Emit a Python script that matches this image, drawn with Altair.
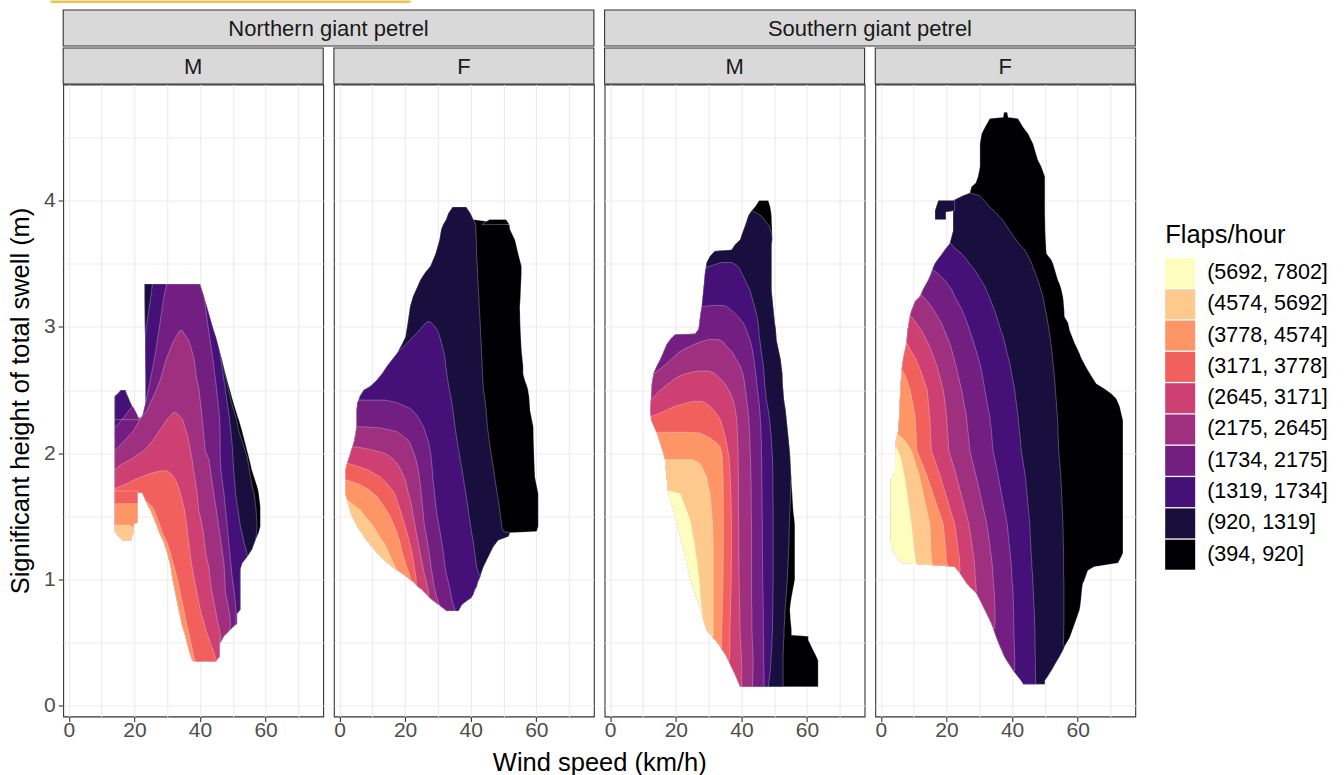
import altair as alt
import pandas as pd

# ---------------- categories / colours ----------------
SPECIES = ["Northern giant petrel", "Southern giant petrel"]
SEXES = ["M", "F", "M", "F"]
BANDS = ["(394, 920]", "(920, 1319]", "(1319, 1734]", "(1734, 2175]", "(2175, 2645]",
         "(2645, 3171]", "(3171, 3778]", "(3778, 4574]", "(4574, 5692]", "(5692, 7802]"]
COLORS = ["#000004", "#180F3E", "#451077", "#721F81", "#9F2F7F",
          "#CD4071", "#F1605D", "#FD9567", "#FEC98D", "#FCFDBF"]
X_TICKS = [0, 10, 20, 30, 40, 50, 60, 70]
Y_TICKS = [0, 0.5, 1, 1.5, 2, 2.5, 3, 3.5, 4, 4.5]

# ---------------- panel 1 : Northern giant petrel, M ----------------
# rows: (swell height, left wind speed, right wind speed) of each region "flaps > band k"
N_M_0 = [(3.34, 23.1, 40.0), (3.24, 23.1, 41.2), (2.97, 23.2, 44.2), (2.79, 23.3, 46.2), (2.58, 23.4, 48.3),
         (2.40, 23.4, 50.2), (2.30, 22.5, 51.4), (2.28, 22.0, 51.6), (2.27, 14.0, 51.8), (2.18, 14.0, 52.8),
         (1.97, 14.0, 54.9), (1.86, 14.0, 55.9), (1.74, 14.0, 57.4), (1.70, 14.0, 57.8), (1.685, 22.4, 57.9),
         (1.58, 24.2, 58.4), (1.55, 24.9, 58.4), (1.42, 26.9, 58.4), (1.37, 27.6, 57.9), (1.31, 28.7, 56.9),
         (1.29, 29.0, 56.6), (1.24, 29.7, 55.9), (1.18, 30.3, 54.4), (1.13, 30.8, 52.9), (1.08, 31.2, 52.3),
         (1.02, 31.5, 52.3), (0.89, 32.5, 52.3), (0.76, 33.5, 52.3), (0.73, 33.8, 51.3), (0.65, 34.4, 51.3),
         (0.63, 34.6, 50.3), (0.59, 35.1, 48.8), (0.55, 35.5, 47.3), (0.49, 36.1, 46.0), (0.39, 37.2, 46.0),
         (0.36, 37.6, 45.0), (0.35, 38.1, 45.0)]
N_M_PEAK = [(2.50, 15.9, 17.3), (2.47, 14.9, 17.6), (2.45, 14.0, 18.0), (2.40, 14.0, 18.8),
            (2.33, 14.0, 20.2), (2.28, 14.0, 21.2), (2.265, 14.0, 21.8)]
N_M_LOW = [(1.70, 14.0, 21.0), (1.45, 14.0, 20.9), (1.44, 14.0, 19.8), (1.38, 14.0, 19.8),
           (1.36, 14.6, 19.6), (1.34, 15.2, 19.3), (1.31, 16.3, 19.0)]
N_M_1 = [(3.34, 23.1, 40.0), (3.24, 23.1, 41.2), (2.97, 23.2, 44.2), (2.79, 23.3, 46.2), (2.75, 23.3, 46.6),
         (2.58, 23.4, 48.0), (2.40, 23.4, 49.6), (2.30, 22.5, 50.8), (2.28, 22.0, 51.0), (2.27, 14.0, 51.1),
         (2.18, 14.0, 51.8), (1.97, 14.0, 54.4), (1.86, 14.0, 55.1), (1.74, 14.0, 55.9), (1.70, 14.0, 56.3),
         (1.685, 22.4, 56.5), (1.58, 24.2, 57.0), (1.55, 24.9, 57.1), (1.42, 26.9, 57.4), (1.37, 27.6, 57.3),
         (1.31, 28.7, 56.9)] + [r for r in N_M_0 if r[0] <= 1.29]
N_M_2 = [(3.34, 25.5, 40.0), (3.24, 25.0, 41.2), (3.15, 24.5, 42.2), (2.97, 23.5, 44.2), (2.92, 23.3, 44.9),
         (2.84, 23.3, 45.7), (2.79, 23.3, 46.1), (2.58, 23.4, 47.3), (2.40, 23.4, 48.3), (2.31, 22.6, 48.8),
         (2.28, 22.0, 49.0), (2.27, 14.0, 49.0), (2.18, 14.0, 49.4), (2.07, 14.0, 49.8), (1.86, 14.0, 50.3),
         (1.70, 14.0, 50.8), (1.685, 22.4, 50.8), (1.58, 24.2, 51.4), (1.55, 24.9, 51.6), (1.42, 26.9, 52.3),
         (1.37, 27.6, 52.8), (1.31, 28.7, 53.3), (1.29, 29.0, 53.4), (1.24, 29.7, 54.0), (1.18, 30.3, 54.4)] \
        + [r for r in N_M_0 if r[0] <= 1.13]
N_M_3 = [(3.34, 29.8, 40.0), (3.24, 29.0, 41.2), (3.05, 27.9, 42.2), (2.79, 26.4, 43.7), (2.52, 24.4, 45.0),
         (2.40, 23.4, 45.5), (2.30, 22.5, 45.9), (2.28, 22.0, 46.0), (2.27, 16.3, 46.0), (2.20, 14.0, 46.1),
         (1.95, 14.0, 46.2), (1.86, 14.0, 46.4), (1.70, 14.0, 47.2), (1.685, 22.4, 47.3), (1.58, 24.2, 47.7),
         (1.55, 24.9, 47.8), (1.42, 26.9, 48.3), (1.37, 27.6, 48.5), (1.31, 28.7, 48.7), (1.29, 29.0, 48.8),
         (1.24, 29.7, 49.0), (1.18, 30.3, 49.2), (1.13, 30.8, 49.4), (1.08, 31.2, 49.6), (1.02, 31.5, 49.8),
         (0.89, 32.5, 50.5), (0.76, 33.5, 51.0), (0.73, 33.8, 51.0), (0.65, 34.4, 51.0)] \
        + [r for r in N_M_0 if r[0] <= 0.63]
N_M_3_PEAK = [(2.37, 19.3, 19.6), (2.30, 17.2, 21.0), (2.28, 16.6, 21.2), (2.265, 16.2, 21.8)]
N_M_4 = [(2.97, 33.8, 34.6), (2.89, 32.0, 36.6), (2.76, 29.9, 38.1), (2.58, 27.9, 39.0), (2.52, 27.0, 39.6),
         (2.34, 23.9, 40.4), (2.26, 21.5, 40.7), (2.18, 19.8, 41.0), (2.10, 17.0, 41.3), (2.02, 14.0, 41.6),
         (1.95, 14.0, 42.7), (1.86, 14.0, 43.2), (1.70, 14.0, 44.1), (1.685, 22.4, 44.2), (1.58, 24.2, 44.8),
         (1.55, 24.9, 45.0), (1.42, 26.9, 45.7), (1.37, 27.6, 46.0), (1.31, 28.7, 46.3), (1.29, 29.0, 46.4),
         (1.24, 29.7, 46.7), (1.18, 30.3, 47.0), (1.13, 30.8, 47.3), (1.08, 31.2, 47.4), (1.02, 31.5, 47.5),
         (0.89, 32.5, 47.8), (0.76, 33.5, 48.8), (0.73, 33.8, 49.0), (0.65, 34.4, 49.3), (0.63, 34.6, 49.3)] \
        + [r for r in N_M_0 if r[0] <= 0.59]
N_M_5 = [(2.32, 31.8, 32.8), (2.27, 30.0, 34.6), (2.20, 28.2, 35.5), (2.15, 26.9, 36.1), (2.08, 25.0, 36.7),
         (2.02, 22.9, 37.1), (1.95, 18.8, 37.6), (1.91, 16.0, 37.8), (1.87, 14.0, 38.0), (1.86, 14.0, 38.1),
         (1.70, 14.0, 39.0), (1.685, 22.4, 39.1), (1.58, 24.2, 39.5), (1.55, 24.9, 39.6), (1.42, 26.9, 40.7),
         (1.37, 27.6, 41.0), (1.31, 28.7, 41.3), (1.29, 29.0, 41.4), (1.24, 29.7, 41.6), (1.18, 30.3, 41.9),
         (1.13, 30.8, 42.4), (1.08, 31.2, 42.8), (1.02, 31.5, 43.0), (0.89, 32.5, 43.7), (0.76, 33.5, 44.7),
         (0.73, 33.8, 44.9), (0.65, 34.4, 45.5), (0.63, 34.6, 45.7), (0.59, 35.1, 46.0), (0.55, 35.5, 46.3)] \
        + [r for r in N_M_0 if r[0] <= 0.49]
N_M_6 = [(1.86, 28.0, 30.0), (1.84, 25.0, 31.0), (1.82, 22.9, 31.8), (1.79, 20.0, 32.5), (1.76, 17.8, 33.0),
         (1.72, 14.0, 33.6), (1.70, 14.0, 33.8), (1.685, 22.4, 34.0), (1.58, 24.2, 35.0), (1.55, 24.9, 35.3),
         (1.42, 26.9, 36.0), (1.37, 27.6, 36.2), (1.31, 28.7, 36.5), (1.29, 29.0, 36.6), (1.24, 29.7, 36.8),
         (1.18, 30.3, 37.1), (1.13, 30.8, 37.4), (1.08, 31.2, 37.7), (1.02, 31.5, 38.1), (0.89, 32.5, 39.1),
         (0.76, 33.5, 40.1), (0.73, 33.8, 40.4), (0.65, 34.4, 41.3), (0.63, 34.6, 41.5), (0.59, 35.1, 41.9),
         (0.55, 35.5, 42.5), (0.49, 36.1, 43.2), (0.43, 36.7, 44.2), (0.39, 37.2, 44.6), (0.36, 37.6, 45.0),
         (0.35, 38.1, 45.0)]
N_M_7 = [(1.62, 23.6, 23.7), (1.58, 24.2, 25.3), (1.55, 24.9, 26.0), (1.42, 26.9, 27.9), (1.37, 27.6, 28.5),
         (1.31, 28.7, 29.6), (1.29, 29.0, 30.0), (1.24, 29.7, 30.6), (1.18, 30.3, 31.3), (1.13, 30.8, 31.8),
         (1.08, 31.2, 32.3), (1.02, 31.5, 33.0), (0.89, 32.5, 34.0), (0.76, 33.5, 35.1), (0.73, 33.8, 35.3),
         (0.65, 34.4, 35.9), (0.63, 34.6, 36.1), (0.59, 35.1, 36.5), (0.55, 35.5, 36.8), (0.49, 36.1, 37.3),
         (0.43, 36.7, 37.8), (0.39, 37.2, 38.1), (0.36, 37.6, 38.5), (0.35, 38.1, 38.6)]
N_M_7_LOW = [(1.60, 14.0, 21.0), (1.45, 14.0, 20.9), (1.44, 14.0, 19.8), (1.38, 14.0, 19.8),
             (1.36, 14.6, 19.6), (1.34, 15.2, 19.3), (1.31, 16.3, 19.0)]
N_M_8_LOW = [(1.43, 14.0, 18.5), (1.41, 14.0, 19.8), (1.38, 14.0, 19.8), (1.36, 14.6, 19.6),
             (1.34, 15.2, 19.3), (1.31, 16.3, 19.0)]
PANEL_N_M = [(0, N_M_0), (0, N_M_PEAK), (0, N_M_LOW), (1, N_M_1), (1, N_M_PEAK), (1, N_M_LOW),
             (2, N_M_2), (2, N_M_PEAK), (2, N_M_LOW), (3, N_M_3), (3, N_M_3_PEAK), (3, N_M_LOW),
             (4, N_M_4), (4, N_M_LOW), (5, N_M_5), (5, N_M_LOW), (6, N_M_6), (6, N_M_LOW),
             (7, N_M_7), (7, N_M_7_LOW), (8, N_M_8_LOW)]

# ---------------- panel 2 : Northern giant petrel, F ----------------
N_F_0 = [(3.95, 34.5, 38.6), (3.90, 33.2, 39.9), (3.85, 32.5, 40.8), (3.81, 31.6, 51.8), (3.77, 31.0, 52.0),
         (3.69, 30.5, 53.5), (3.58, 29.3, 54.5), (3.48, 27.7, 55.5), (3.43, 26.1, 55.5), (3.37, 24.6, 55.4),
         (3.31, 23.6, 55.3), (3.24, 22.4, 55.2), (3.16, 21.5, 55.0), (3.03, 20.8, 55.1), (2.92, 20.1, 55.3),
         (2.86, 19.0, 55.4), (2.79, 17.5, 55.6), (2.74, 16.0, 55.8), (2.69, 14.5, 56.0), (2.63, 13.0, 56.0),
         (2.58, 11.4, 56.5), (2.53, 9.4, 57.2), (2.50, 7.4, 57.5), (2.45, 6.2, 57.8), (2.39, 5.4, 58.0),
         (2.34, 5.2, 58.1), (2.21, 5.2, 59.1), (2.09, 4.4, 59.2), (2.00, 3.3, 59.3), (1.92, 2.3, 59.4),
         (1.87, 1.8, 59.5), (1.81, 1.8, 59.6), (1.68, 1.8, 60.6), (1.58, 2.8, 60.6), (1.50, 3.8, 60.6),
         (1.42, 5.4, 60.6), (1.38, 6.4, 60.1), (1.37, 6.8, 52.0), (1.34, 7.4, 51.5), (1.31, 8.3, 48.4),
         (1.26, 9.9, 46.9), (1.18, 12.5, 45.4), (1.10, 16.0, 43.9), (1.05, 19.0, 43.2), (1.02, 20.5, 42.9),
         (0.98, 22.6, 42.2), (0.94, 24.0, 41.8), (0.92, 25.1, 41.3), (0.88, 26.5, 40.8), (0.85, 27.7, 40.0),
         (0.84, 28.2, 39.3), (0.80, 30.2, 37.3), (0.75, 32.7, 36.3)]
N_F_TOP = [(3.85, 45.7, 50.8), (3.81, 43.4, 51.8)]
N_F_1 = [(3.95, 34.5, 38.6), (3.90, 33.2, 39.9), (3.85, 32.5, 40.8), (3.81, 31.6, 41.5), (3.77, 31.0, 41.6),
         (3.69, 30.5, 41.7), (3.58, 29.3, 41.8), (3.48, 27.7, 42.0), (3.43, 26.1, 42.1), (3.37, 24.6, 42.2),
         (3.31, 23.6, 42.3), (3.24, 22.4, 42.5), (3.16, 21.5, 42.6), (3.03, 20.8, 42.9), (2.92, 20.1, 43.1),
         (2.86, 19.0, 43.2), (2.79, 17.5, 43.3), (2.74, 16.0, 43.4), (2.69, 14.5, 43.5), (2.63, 13.0, 43.6),
         (2.58, 11.4, 43.7), (2.53, 9.4, 43.8), (2.50, 7.4, 43.9), (2.45, 6.2, 44.2), (2.39, 5.4, 44.5),
         (2.34, 5.2, 44.7), (2.21, 5.2, 45.1), (2.09, 4.4, 45.7), (2.00, 3.3, 46.2), (1.92, 2.3, 46.7),
         (1.87, 1.8, 47.0), (1.81, 1.8, 47.3), (1.68, 1.8, 48.1), (1.58, 2.8, 48.7), (1.50, 3.8, 49.1),
         (1.42, 5.4, 49.5), (1.38, 6.4, 49.9)] + [r for r in N_F_0 if r[0] <= 1.37]
N_F_2 = [(3.04, 26.7, 27.7), (3.01, 25.5, 28.8), (2.98, 24.5, 29.7), (2.95, 23.6, 30.2), (2.91, 22.0, 30.7),
         (2.87, 20.6, 31.1), (2.83, 19.0, 31.5), (2.80, 17.8, 31.8), (2.79, 17.5, 31.9), (2.74, 16.0, 32.2),
         (2.69, 14.5, 32.4), (2.63, 13.0, 32.7), (2.58, 11.4, 33.0), (2.53, 9.4, 33.3), (2.50, 7.4, 33.5),
         (2.45, 6.2, 33.9), (2.39, 5.4, 34.3), (2.34, 5.2, 34.6), (2.21, 5.2, 35.2), (2.09, 4.4, 35.9),
         (2.00, 3.3, 36.5), (1.92, 2.3, 37.0), (1.87, 1.8, 37.4), (1.81, 1.8, 37.7), (1.68, 1.8, 38.5),
         (1.58, 2.8, 39.1), (1.50, 3.8, 39.5), (1.42, 5.4, 40.0), (1.37, 6.8, 40.3), (1.34, 7.4, 40.5),
         (1.31, 8.3, 40.7), (1.26, 9.9, 41.0), (1.18, 12.5, 41.4), (1.10, 16.0, 41.8), (1.05, 19.0, 42.4)] \
        + [r for r in N_F_0 if r[0] <= 1.02]
N_F_3 = [(2.42, 5.8, 14.0), (2.40, 5.4, 17.5), (2.36, 5.3, 21.1), (2.34, 5.2, 22.2), (2.30, 5.2, 23.6),
         (2.21, 5.2, 25.6), (2.09, 4.4, 27.1), (2.00, 3.3, 27.8), (1.92, 2.3, 28.1), (1.87, 1.8, 28.3),
         (1.81, 1.8, 28.4), (1.68, 1.8, 29.0), (1.58, 2.8, 29.4), (1.50, 3.8, 29.8), (1.42, 5.4, 30.4),
         (1.37, 6.8, 30.7), (1.34, 7.4, 30.9), (1.31, 8.3, 31.1), (1.26, 9.9, 31.4), (1.18, 12.5, 31.8),
         (1.10, 16.0, 32.2), (1.05, 19.0, 32.5), (1.02, 20.5, 32.8), (0.98, 22.6, 33.2), (0.94, 24.0, 33.5),
         (0.92, 25.1, 33.7), (0.88, 26.5, 34.0), (0.85, 27.7, 34.2), (0.84, 28.2, 34.3), (0.80, 30.2, 34.7),
         (0.75, 32.7, 35.3)]
N_F_4 = [(2.21, 5.2, 6.0), (2.20, 5.1, 12.5), (2.17, 5.0, 17.5), (2.11, 4.6, 20.6), (2.09, 4.4, 21.3),
         (2.00, 3.3, 22.7), (1.97, 3.0, 23.1), (1.92, 2.3, 23.6), (1.87, 1.8, 24.0), (1.81, 1.8, 24.3),
         (1.76, 1.8, 24.6), (1.68, 1.8, 24.9), (1.58, 2.8, 25.3), (1.50, 3.8, 25.6), (1.42, 5.4, 25.9),
         (1.37, 6.8, 26.3), (1.34, 7.4, 26.5), (1.31, 8.3, 26.7), (1.26, 9.9, 27.0), (1.23, 10.8, 27.2),
         (1.18, 12.5, 27.5), (1.10, 16.0, 27.9), (1.05, 19.0, 28.2), (1.02, 20.5, 28.4), (0.98, 22.6, 28.6),
         (0.94, 24.0, 28.9), (0.92, 25.1, 29.1), (0.88, 26.5, 29.4), (0.85, 27.7, 29.8), (0.84, 28.2, 29.9),
         (0.81, 29.7, 30.2), (0.79, 30.7, 30.7)]
N_F_5 = [(2.05, 3.9, 5.0), (2.03, 3.6, 9.4), (2.00, 3.3, 13.5), (1.99, 3.2, 14.5), (1.95, 2.7, 16.5),
         (1.92, 2.3, 17.5), (1.87, 1.8, 18.7), (1.81, 1.8, 19.7), (1.79, 1.8, 20.1), (1.68, 1.8, 21.0),
         (1.63, 2.3, 21.6), (1.58, 2.8, 22.0), (1.50, 3.8, 22.5), (1.42, 5.4, 23.1), (1.37, 6.8, 23.4),
         (1.34, 7.4, 23.6), (1.31, 8.3, 23.9), (1.26, 9.9, 24.2), (1.21, 11.5, 24.6), (1.18, 12.5, 24.8),
         (1.10, 16.0, 25.4), (1.05, 19.0, 25.8), (1.02, 20.5, 26.1), (0.98, 22.6, 26.5), (0.94, 24.0, 26.8),
         (0.92, 25.1, 27.0), (0.89, 26.2, 27.2), (0.87, 27.0, 27.1)]
N_F_6 = [(1.92, 2.3, 2.5), (1.88, 1.9, 7.4), (1.87, 1.8, 8.5), (1.81, 1.8, 12.5), (1.76, 1.8, 14.5),
         (1.71, 1.8, 16.0), (1.68, 1.8, 16.8), (1.58, 2.8, 18.1), (1.55, 3.2, 18.5), (1.50, 3.8, 19.1),
         (1.42, 5.4, 20.0), (1.37, 6.8, 20.6), (1.34, 7.4, 20.9), (1.31, 8.3, 21.2), (1.26, 9.9, 21.7),
         (1.21, 11.5, 22.1), (1.18, 12.5, 22.3), (1.10, 16.0, 22.8), (1.05, 19.0, 23.1), (1.02, 20.5, 23.3),
         (0.98, 22.6, 23.4), (0.96, 23.3, 23.4)]
N_F_7 = [(1.79, 1.8, 2.0), (1.75, 1.8, 6.4), (1.71, 1.8, 9.0), (1.68, 1.8, 10.3), (1.66, 2.0, 11.4),
         (1.58, 2.8, 13.5), (1.52, 3.5, 15.0), (1.50, 3.8, 15.4), (1.42, 5.4, 16.8), (1.37, 6.8, 17.5),
         (1.34, 7.4, 17.9), (1.31, 8.3, 18.3), (1.26, 9.9, 18.7), (1.23, 10.8, 19.0), (1.18, 12.5, 19.5),
         (1.13, 14.6, 20.1), (1.10, 16.0, 20.5), (1.05, 19.0, 21.2), (1.02, 20.5, 21.6), (1.01, 21.2, 21.7)]
N_F_8 = [(1.63, 2.3, 2.4), (1.58, 2.8, 4.8), (1.55, 3.2, 6.4), (1.50, 3.8, 7.8), (1.42, 5.4, 10.4),
         (1.37, 6.8, 11.5), (1.34, 7.4, 12.2), (1.31, 8.3, 12.9), (1.29, 8.9, 13.5), (1.26, 9.9, 14.2),
         (1.18, 12.5, 15.5), (1.10, 16.0, 16.9), (1.08, 17.2, 17.3)]
PANEL_N_F = [(0, N_F_0), (0, N_F_TOP), (1, N_F_1), (2, N_F_2), (3, N_F_3), (4, N_F_4),
             (5, N_F_5), (6, N_F_6), (7, N_F_7), (8, N_F_8)]

# ---------------- panel 3 : Southern giant petrel, M ----------------
S_M_0 = [(4.00, 45.4, 48.2), (3.95, 44.1, 48.8), (3.92, 43.1, 49.0), (3.88, 42.1, 49.2), (3.80, 41.1, 49.3),
         (3.73, 40.1, 49.4), (3.69, 39.6, 49.4), (3.65, 38.0, 49.2), (3.61, 37.0, 49.2), (3.60, 31.9, 49.2),
         (3.56, 30.4, 49.2), (3.51, 29.4, 49.2), (3.43, 28.9, 49.2), (3.29, 28.4, 49.2), (3.16, 27.9, 49.7),
         (3.08, 27.4, 50.0), (3.03, 27.2, 50.2), (2.98, 26.9, 50.5), (2.945, 25.9, 50.6), (2.94, 19.8, 50.6),
         (2.90, 18.3, 50.7), (2.86, 17.2, 51.0), (2.80, 16.2, 51.5), (2.74, 15.2, 52.0), (2.69, 14.2, 52.2),
         (2.63, 13.2, 52.5), (2.55, 12.7, 52.6), (2.42, 12.4, 53.0), (2.34, 12.2, 53.5), (2.26, 12.5, 53.8),
         (2.16, 14.2, 54.2), (2.08, 15.2, 54.5), (2.00, 16.2, 54.8), (1.95, 16.7, 54.9), (1.81, 17.2, 55.2),
         (1.68, 17.7, 55.5), (1.55, 19.3, 55.8), (1.44, 20.3, 56.3), (1.29, 21.8, 56.3), (1.00, 24.5, 56.3),
         (0.86, 26.2, 55.3), (0.81, 26.9, 55.0), (0.76, 27.5, 54.8), (0.68, 28.4, 55.0), (0.60, 29.4, 55.3),
         (0.56, 30.8, 55.3), (0.55, 31.0, 60.4), (0.52, 32.0, 60.4), (0.49, 33.0, 61.0), (0.44, 34.2, 61.9),
         (0.41, 35.0, 62.5), (0.36, 36.0, 63.4), (0.33, 36.5, 63.4), (0.25, 38.0, 63.4), (0.15, 39.6, 63.4)]
S_M_1 = [(3.92, 43.1, 43.3), (3.88, 42.1, 46.0), (3.80, 41.1, 48.5), (3.73, 40.1, 49.3)] \
        + [r for r in S_M_0 if 1.81 <= r[0] <= 3.69] \
        + [(1.68, 17.7, 55.0), (1.55, 19.3, 54.8), (1.44, 20.3, 54.6), (1.29, 21.8, 54.5), (1.00, 24.5, 54.0),
           (0.86, 26.2, 53.6), (0.81, 26.9, 53.5), (0.76, 27.5, 53.3), (0.68, 28.4, 53.2), (0.60, 29.4, 53.0),
           (0.56, 30.8, 53.0), (0.55, 31.0, 53.0), (0.52, 32.0, 52.9), (0.49, 33.0, 52.8), (0.44, 34.2, 52.8),
           (0.41, 35.0, 52.7), (0.36, 36.0, 52.7), (0.33, 36.5, 52.7), (0.25, 38.0, 52.7), (0.15, 39.6, 52.7)]
S_M_2 = [(3.51, 34.0, 37.0), (3.49, 31.5, 38.5), (3.47, 29.2, 39.2), (3.43, 28.9, 40.0), (3.29, 28.4, 42.6),
         (3.16, 27.9, 44.0), (3.08, 27.4, 44.8), (3.03, 27.2, 45.1), (2.98, 26.9, 45.3), (2.945, 25.9, 45.4),
         (2.94, 19.8, 45.4), (2.90, 18.3, 45.6), (2.86, 17.2, 45.8), (2.80, 16.2, 46.1), (2.74, 15.2, 46.4),
         (2.69, 14.2, 46.7), (2.63, 13.2, 46.9), (2.55, 12.7, 47.1), (2.42, 12.4, 47.6), (2.34, 12.2, 48.2),
         (2.26, 12.5, 48.6), (2.16, 14.2, 49.0), (2.08, 15.2, 49.2), (2.00, 16.2, 49.4), (1.95, 16.7, 49.5),
         (1.81, 17.2, 49.6), (1.68, 17.7, 49.6), (1.55, 19.3, 49.7), (1.44, 20.3, 49.7), (1.29, 21.8, 49.7),
         (1.00, 24.5, 49.7), (0.86, 26.2, 49.6), (0.81, 26.9, 49.6), (0.76, 27.5, 49.6), (0.68, 28.4, 49.5),
         (0.60, 29.4, 49.5), (0.56, 30.8, 49.4), (0.55, 31.0, 49.4), (0.52, 32.0, 49.3), (0.49, 33.0, 49.3),
         (0.44, 34.2, 49.2), (0.41, 35.0, 49.1), (0.36, 36.0, 49.0), (0.33, 36.5, 49.0), (0.25, 38.0, 48.7),
         (0.15, 39.6, 48.2)]
S_M_3 = [(3.17, 31.5, 34.5), (3.16, 27.9, 35.5), (3.12, 27.6, 37.5), (3.08, 27.4, 39.0), (3.03, 27.2, 40.6),
         (2.98, 26.9, 41.5), (2.945, 25.9, 42.0), (2.94, 19.8, 42.0), (2.90, 18.3, 42.6), (2.86, 17.2, 43.0),
         (2.80, 16.2, 43.5), (2.74, 15.2, 43.8), (2.69, 14.2, 44.1), (2.63, 13.2, 44.4), (2.55, 12.7, 44.7),
         (2.42, 12.4, 45.3), (2.34, 12.2, 45.6), (2.26, 12.5, 45.8), (2.16, 14.2, 46.0), (2.08, 15.2, 46.1),
         (2.00, 16.2, 46.1), (1.95, 16.7, 46.2), (1.81, 17.2, 46.2), (1.68, 17.7, 46.3), (1.55, 19.3, 46.3),
         (1.44, 20.3, 46.4), (1.29, 21.8, 46.4), (1.00, 24.5, 46.5), (0.86, 26.2, 46.6), (0.81, 26.9, 46.6),
         (0.76, 27.5, 46.7), (0.68, 28.4, 46.7), (0.60, 29.4, 46.7), (0.56, 30.8, 46.7), (0.55, 31.0, 46.7),
         (0.52, 32.0, 46.8), (0.49, 33.0, 46.8), (0.44, 34.2, 46.8), (0.41, 35.0, 46.8), (0.36, 36.0, 46.8),
         (0.33, 36.5, 46.8), (0.25, 38.0, 46.9), (0.15, 39.6, 46.9)]
S_M_4 = [(2.90, 30.0, 32.8), (2.88, 27.4, 34.5), (2.86, 25.5, 35.0), (2.82, 22.3, 36.5), (2.80, 21.0, 37.2),
         (2.74, 18.5, 38.5), (2.71, 17.2, 39.2), (2.69, 16.3, 39.6), (2.63, 13.4, 40.4), (2.61, 13.1, 40.6),
         (2.55, 12.7, 41.0), (2.42, 12.4, 41.6), (2.34, 12.2, 42.0), (2.26, 12.5, 42.3), (2.16, 14.2, 42.5),
         (2.08, 15.2, 42.6), (2.00, 16.2, 42.7), (1.95, 16.7, 42.8), (1.81, 17.2, 42.9), (1.68, 17.7, 43.0),
         (1.55, 19.3, 43.0), (1.44, 20.3, 43.1), (1.29, 21.8, 43.1), (1.00, 24.5, 43.1), (0.86, 26.2, 43.1),
         (0.81, 26.9, 43.1), (0.76, 27.5, 43.2), (0.68, 28.4, 43.2), (0.60, 29.4, 43.2), (0.56, 30.8, 43.3),
         (0.55, 31.0, 43.3), (0.52, 32.0, 43.3), (0.49, 33.0, 43.4), (0.44, 34.2, 43.5), (0.41, 35.0, 43.5),
         (0.36, 36.0, 43.6), (0.33, 36.5, 43.6), (0.25, 38.0, 43.5), (0.15, 39.6, 43.4)]
S_M_5 = [(2.65, 26.5, 30.0), (2.63, 23.3, 32.0), (2.61, 21.0, 32.5), (2.58, 19.2, 34.0), (2.54, 17.2, 35.2),
         (2.48, 14.5, 36.5), (2.42, 12.4, 37.5), (2.34, 12.2, 38.2), (2.26, 12.5, 38.6), (2.16, 14.2, 38.8),
         (2.08, 15.2, 38.9), (2.00, 16.2, 39.0), (1.95, 16.7, 39.0), (1.81, 17.2, 39.1), (1.68, 17.7, 39.1),
         (1.55, 19.3, 39.1), (1.44, 20.3, 39.2), (1.29, 21.8, 39.2), (1.00, 24.5, 39.3), (0.86, 26.2, 39.4),
         (0.81, 26.9, 39.4), (0.76, 27.5, 39.5), (0.68, 28.4, 39.5), (0.60, 29.4, 39.6), (0.56, 30.8, 39.6),
         (0.55, 31.0, 39.7), (0.52, 32.0, 39.7), (0.49, 33.0, 39.8), (0.44, 34.2, 39.9), (0.41, 35.0, 40.0),
         (0.36, 36.0, 40.0), (0.33, 36.5, 40.1), (0.25, 38.0, 40.1), (0.15, 39.6, 40.1)]
S_M_6 = [(2.41, 25.0, 28.0), (2.39, 22.3, 29.5), (2.37, 19.5, 30.4), (2.34, 17.2, 31.5), (2.31, 14.5, 32.5),
         (2.29, 12.4, 33.0), (2.26, 12.5, 33.6), (2.16, 14.2, 34.8), (2.08, 15.2, 35.5), (2.00, 16.2, 36.0),
         (1.95, 16.7, 36.3), (1.81, 17.2, 36.6), (1.68, 17.7, 36.8), (1.55, 19.3, 36.9), (1.44, 20.3, 37.0),
         (1.29, 21.8, 37.0), (1.00, 24.5, 36.9), (0.86, 26.2, 36.8), (0.81, 26.9, 36.7), (0.76, 27.5, 36.7),
         (0.68, 28.4, 36.6), (0.60, 29.4, 36.5), (0.56, 30.8, 36.5), (0.55, 31.0, 36.5), (0.52, 32.0, 36.5),
         (0.49, 33.0, 36.5), (0.44, 34.2, 36.5), (0.41, 35.0, 36.4), (0.36, 36.0, 36.3)]
S_M_7 = [(2.165, 14.1, 24.0), (2.16, 14.2, 27.4), (2.12, 14.8, 30.5), (2.08, 15.2, 32.5), (2.05, 15.6, 33.5),
         (2.00, 16.2, 34.0), (1.95, 16.7, 34.2), (1.81, 17.2, 34.4), (1.68, 17.7, 34.5), (1.55, 19.3, 34.5),
         (1.44, 20.3, 34.5), (1.29, 21.8, 34.5), (1.00, 24.5, 34.4), (0.86, 26.2, 34.3), (0.81, 26.9, 34.2),
         (0.76, 27.5, 34.2), (0.68, 28.4, 34.1), (0.60, 29.4, 34.0), (0.56, 30.8, 34.0), (0.55, 31.0, 34.0),
         (0.52, 32.0, 34.0), (0.49, 33.0, 34.0), (0.46, 33.7, 34.0)]
S_M_8 = [(1.95, 16.7, 25.0), (1.92, 16.9, 27.4), (1.81, 17.2, 29.4), (1.68, 17.7, 30.4), (1.55, 19.3, 30.9),
         (1.44, 20.3, 31.2), (1.29, 21.8, 31.4), (1.00, 24.5, 31.4), (0.86, 26.2, 31.4), (0.81, 26.9, 31.4),
         (0.76, 27.5, 31.4), (0.68, 28.4, 31.4), (0.60, 29.4, 31.4), (0.56, 30.8, 31.4), (0.55, 31.0, 31.3)]
S_M_9 = [(1.70, 17.7, 18.0), (1.68, 17.7, 21.3), (1.55, 19.3, 23.2), (1.47, 20.0, 24.3), (1.44, 20.3, 24.6),
         (1.29, 21.8, 25.6), (1.15, 23.1, 26.4), (1.00, 24.5, 27.1), (0.89, 25.9, 27.4), (0.86, 26.2, 27.5),
         (0.81, 26.9, 27.7), (0.76, 27.5, 27.9), (0.70, 28.1, 28.1)]
PANEL_S_M = [(0, S_M_0), (1, S_M_1), (2, S_M_2), (3, S_M_3), (4, S_M_4), (5, S_M_5),
             (6, S_M_6), (7, S_M_7), (8, S_M_8), (9, S_M_9)]

# ---------------- panel 4 : Southern giant petrel, F ----------------
S_F_0 = [(4.70, 37.5, 38.5), (4.66, 37.3, 38.8), (4.65, 33.2, 41.8), (4.58, 31.7, 43.4), (4.53, 30.7, 44.9),
         (4.45, 30.2, 46.4), (4.32, 30.2, 47.9), (4.27, 30.2, 48.9), (4.19, 29.6, 50.0), (4.14, 28.9, 50.0),
         (4.11, 27.6, 50.0), (4.06, 27.1, 50.0), (4.04, 25.1, 50.0), (4.00, 22.0, 50.0), (3.91, 22.0, 50.0),
         (3.76, 22.0, 50.1), (3.66, 21.0, 50.3), (3.61, 19.5, 50.4), (3.58, 18.7, 50.5), (3.53, 17.2, 52.0),
         (3.50, 16.4, 52.5), (3.43, 15.4, 53.3), (3.37, 14.4, 54.0), (3.34, 13.7, 54.5), (3.30, 12.9, 55.0),
         (3.24, 11.9, 55.5), (3.20, 10.4, 55.7), (3.13, 9.3, 55.9), (3.08, 8.8, 56.0), (3.03, 8.5, 57.1),
         (2.97, 8.1, 57.6), (2.87, 7.8, 59.1), (2.79, 7.1, 60.6), (2.76, 6.8, 61.0), (2.68, 6.4, 62.6),
         (2.61, 6.2, 64.2), (2.55, 6.0, 65.7), (2.51, 5.9, 68.2), (2.47, 5.85, 70.3), (2.43, 5.8, 71.8),
         (2.37, 5.7, 72.8), (2.26, 5.5, 73.8), (2.18, 5.3, 73.8), (2.11, 4.6, 73.8), (1.84, 4.3, 73.8),
         (1.80, 3.0, 73.8), (1.31, 3.0, 73.8), (1.21, 3.8, 73.8), (1.18, 4.8, 73.3), (1.13, 6.5, 72.3),
         (1.10, 22.5, 65.0), (1.07, 23.5, 63.1), (1.05, 24.1, 62.8), (0.99, 25.6, 62.0), (0.97, 26.0, 61.6),
         (0.94, 27.1, 61.4), (0.89, 29.1, 61.2), (0.81, 30.7, 60.9), (0.76, 31.5, 60.6), (0.73, 32.2, 60.2),
         (0.65, 33.7, 59.1), (0.54, 35.2, 57.6), (0.47, 36.3, 56.0), (0.44, 36.8, 55.5), (0.39, 37.6, 54.5),
         (0.36, 38.3, 53.8), (0.28, 40.3, 52.0), (0.23, 41.8, 50.8), (0.20, 42.7, 50.0), (0.17, 43.4, 50.0)]
S_F_FLAG = [(4.00, 17.5, 22.5), (3.92, 16.5, 22.5), (3.91, 16.5, 19.8), (3.85, 16.5, 19.8)]
S_F_1 = [(4.06, 27.1, 27.2), (4.04, 25.1, 30.0), (4.00, 22.0, 31.5), (3.95, 22.0, 33.2), (3.91, 22.0, 34.8),
         (3.85, 22.0, 37.0), (3.76, 22.0, 39.3), (3.66, 21.0, 42.0), (3.61, 19.5, 43.9), (3.58, 18.7, 44.5),
         (3.53, 17.2, 45.5), (3.50, 16.4, 46.0), (3.43, 15.4, 47.0), (3.37, 14.4, 47.9), (3.30, 12.9, 48.7),
         (3.24, 11.9, 49.4), (3.20, 10.4, 49.7), (3.13, 9.3, 50.2), (3.08, 8.8, 50.6), (3.03, 8.5, 50.9),
         (2.97, 8.1, 51.3), (2.87, 7.8, 51.8), (2.79, 7.1, 52.2), (2.68, 6.4, 52.6), (2.58, 6.1, 53.0),
         (2.47, 5.85, 53.3), (2.37, 5.7, 53.6), (2.26, 5.5, 53.9), (2.18, 5.3, 54.0), (2.11, 4.6, 54.1),
         (2.02, 4.5, 54.2), (1.84, 4.3, 54.8), (1.80, 3.0, 54.9), (1.44, 3.0, 55.5), (1.31, 3.0, 55.6),
         (1.21, 3.8, 55.7), (1.18, 4.8, 55.7), (1.13, 6.5, 55.7), (1.10, 22.5, 55.7), (1.05, 24.1, 55.7),
         (0.99, 25.6, 55.8), (0.94, 27.1, 55.8), (0.89, 29.1, 55.8), (0.81, 30.7, 55.8), (0.73, 32.2, 55.8),
         (0.65, 33.7, 55.8), (0.54, 35.2, 55.7), (0.49, 35.9, 55.6), (0.47, 36.3, 56.0)] \
        + [r for r in S_F_0 if r[0] <= 0.44]
S_F_2 = [(3.66, 21.0, 21.3), (3.61, 19.5, 23.0), (3.58, 18.7, 24.6), (3.53, 17.2, 26.2), (3.50, 16.4, 27.0),
         (3.45, 15.6, 28.6), (3.43, 15.4, 29.1), (3.37, 14.4, 30.5), (3.32, 13.3, 31.7), (3.30, 12.9, 32.0),
         (3.24, 11.9, 33.0), (3.20, 10.4, 33.6), (3.13, 9.3, 34.7), (3.08, 8.8, 35.3), (3.03, 8.5, 35.9),
         (2.97, 8.1, 36.6), (2.92, 7.9, 37.3), (2.87, 7.8, 37.8), (2.79, 7.1, 38.5), (2.71, 6.6, 39.3),
         (2.61, 6.2, 40.0), (2.50, 5.9, 40.8), (2.43, 5.8, 41.1), (2.37, 5.7, 41.4), (2.29, 5.6, 41.8),
         (2.26, 5.5, 41.9), (2.18, 5.3, 42.2), (2.11, 4.6, 42.5), (2.02, 4.5, 42.8), (1.84, 4.3, 43.9),
         (1.80, 3.0, 44.1), (1.44, 3.0, 45.4), (1.31, 3.0, 45.6), (1.21, 3.8, 45.8), (1.18, 4.8, 45.9),
         (1.13, 6.5, 46.0), (1.10, 22.5, 46.0), (1.05, 24.1, 46.2), (0.99, 25.6, 46.3), (0.94, 27.1, 46.4),
         (0.89, 29.1, 46.5), (0.81, 30.7, 46.6), (0.73, 32.2, 46.8), (0.65, 33.7, 46.9), (0.54, 35.2, 47.0),
         (0.47, 36.3, 47.0), (0.44, 36.8, 47.0), (0.39, 37.6, 47.1), (0.36, 38.3, 47.1), (0.28, 40.3, 47.1),
         (0.23, 41.8, 47.2), (0.20, 42.7, 47.2), (0.17, 43.4, 47.2)]
S_F_3 = [(3.45, 15.6, 16.0), (3.43, 15.4, 17.0), (3.37, 14.4, 19.5), (3.30, 12.9, 21.5), (3.24, 11.9, 22.5),
         (3.20, 10.4, 23.4), (3.13, 9.3, 24.8), (3.08, 8.8, 25.6), (3.03, 8.5, 26.3), (2.97, 8.1, 27.1),
         (2.89, 7.8, 28.1), (2.79, 7.1, 29.3), (2.71, 6.6, 30.2), (2.61, 6.2, 31.0), (2.50, 5.9, 31.7),
         (2.43, 5.8, 32.2), (2.37, 5.7, 32.6), (2.29, 5.6, 33.2), (2.26, 5.5, 33.3), (2.18, 5.3, 33.7),
         (2.11, 4.6, 33.9), (2.02, 4.5, 34.2), (1.84, 4.3, 35.6), (1.80, 3.0, 35.9), (1.44, 3.0, 38.5),
         (1.31, 3.0, 39.0), (1.21, 3.8, 39.4), (1.18, 4.8, 39.5), (1.13, 6.5, 39.7), (1.10, 22.5, 39.8),
         (1.05, 24.1, 39.9), (0.99, 25.6, 40.0), (0.94, 27.1, 40.2), (0.89, 29.1, 40.3), (0.81, 30.7, 40.4),
         (0.73, 32.2, 40.5), (0.65, 33.7, 40.5), (0.54, 35.2, 40.6), (0.47, 36.3, 40.7), (0.44, 36.8, 40.7),
         (0.39, 37.6, 40.8), (0.36, 38.3, 40.8), (0.30, 39.8, 40.8), (0.28, 40.3, 40.8)]
S_F_4 = [(3.25, 12.1, 12.4), (3.24, 11.9, 12.9), (3.20, 10.4, 14.2), (3.16, 9.8, 15.4), (3.13, 9.3, 16.2),
         (3.08, 8.8, 17.3), (3.03, 8.5, 18.5), (2.97, 8.1, 19.4), (2.87, 7.8, 21.0), (2.79, 7.1, 21.9),
         (2.68, 6.4, 23.0), (2.61, 6.2, 23.6), (2.50, 5.9, 24.6), (2.43, 5.8, 25.1), (2.37, 5.7, 25.5),
         (2.29, 5.6, 26.1), (2.26, 5.5, 26.2), (2.18, 5.3, 26.5), (2.11, 4.6, 26.8), (2.02, 4.5, 27.1),
         (1.84, 4.3, 28.8), (1.80, 3.0, 29.2), (1.44, 3.0, 32.3), (1.31, 3.0, 33.0), (1.21, 3.8, 33.5),
         (1.18, 4.8, 33.7), (1.13, 6.5, 33.9), (1.10, 22.5, 34.0), (1.05, 24.1, 34.1), (0.99, 25.6, 34.3),
         (0.94, 27.1, 34.4), (0.89, 29.1, 34.6), (0.81, 30.7, 34.7), (0.73, 32.2, 34.8), (0.65, 33.7, 34.8),
         (0.61, 34.3, 34.6)]
S_F_5 = [(3.08, 8.8, 9.3), (3.03, 8.5, 10.8), (2.97, 8.1, 12.4), (2.87, 7.8, 14.4), (2.84, 7.7, 14.9),
         (2.79, 7.1, 15.7), (2.68, 6.4, 17.2), (2.61, 6.2, 17.9), (2.50, 5.9, 19.0), (2.43, 5.8, 19.4),
         (2.37, 5.7, 19.7), (2.29, 5.6, 20.0), (2.26, 5.5, 20.1), (2.18, 5.3, 20.3), (2.11, 4.6, 20.5),
         (2.02, 4.5, 20.7), (1.84, 4.3, 22.8), (1.80, 3.0, 23.2), (1.44, 3.0, 26.8), (1.31, 3.0, 27.6),
         (1.21, 3.8, 28.1), (1.18, 4.8, 28.3), (1.13, 6.5, 28.5), (1.10, 22.5, 28.6), (1.05, 24.1, 28.7),
         (0.99, 25.6, 28.9), (0.94, 27.1, 29.0), (0.90, 28.8, 29.1)]
S_F_6 = [(2.87, 7.8, 7.9), (2.79, 7.1, 9.6), (2.76, 6.8, 10.4), (2.68, 6.4, 11.7), (2.63, 6.2, 12.4),
         (2.55, 6.0, 13.5), (2.50, 5.9, 14.1), (2.43, 5.8, 14.4), (2.37, 5.7, 14.6), (2.29, 5.6, 14.9),
         (2.26, 5.5, 15.0), (2.18, 5.3, 15.1), (2.11, 4.6, 15.2), (2.02, 4.5, 15.4), (1.84, 4.3, 17.8),
         (1.80, 3.0, 18.3), (1.44, 3.0, 22.5), (1.31, 3.0, 23.2), (1.21, 3.8, 23.7), (1.18, 4.8, 23.9),
         (1.13, 6.5, 24.0), (1.10, 22.5, 24.1), (1.07, 23.5, 24.1), (1.06, 23.9, 24.0)]
S_F_7 = [(2.66, 6.3, 6.4), (2.61, 6.2, 7.5), (2.55, 6.0, 8.3), (2.51, 5.9, 8.8), (2.45, 5.8, 9.3),
         (2.37, 5.7, 9.9), (2.29, 5.6, 10.4), (2.26, 5.5, 10.5), (2.18, 5.3, 10.7), (2.11, 4.6, 10.8),
         (2.02, 4.5, 11.0), (1.84, 4.3, 13.8), (1.80, 3.0, 14.3), (1.44, 3.0, 19.0), (1.31, 3.0, 19.5),
         (1.21, 3.8, 19.8), (1.18, 4.8, 19.9), (1.13, 6.5, 20.0), (1.11, 17.0, 20.5)]
S_F_8 = [(2.15, 5.0, 5.1), (2.11, 4.6, 7.0), (2.08, 4.55, 7.8), (2.02, 4.5, 9.3), (1.84, 4.3, 11.5),
         (1.80, 3.0, 11.9), (1.44, 3.0, 14.9), (1.31, 3.0, 15.1), (1.21, 3.8, 15.3), (1.18, 4.8, 15.4),
         (1.13, 6.5, 15.5), (1.113, 15.0, 15.9)]
S_F_9 = [(2.05, 4.5, 4.6), (1.97, 4.4, 6.0), (1.84, 4.3, 7.0), (1.80, 3.0, 7.3), (1.44, 3.0, 9.3),
         (1.31, 3.0, 9.8), (1.21, 3.8, 10.2), (1.18, 4.8, 10.4), (1.13, 6.5, 10.6), (1.122, 10.5, 10.9)]
PANEL_S_F = [(0, S_F_0), (0, S_F_FLAG), (1, S_F_1), (1, S_F_FLAG), (2, S_F_2), (3, S_F_3), (4, S_F_4),
             (5, S_F_5), (6, S_F_6), (7, S_F_7), (8, S_F_8), (9, S_F_9)]

PANELS = [PANEL_N_M, PANEL_N_F, PANEL_S_M, PANEL_S_F]

# ---------------- layout constants (pixels) ----------------
PW, PH, GAP = 260, 632, 10.7
FONT = "Liberation Sans"

color_scale = alt.Scale(domain=BANDS[::-1], range=COLORS[::-1])
x_scale = alt.Scale(domain=[-1.71, 77.56], nice=False, zero=False)
y_scale = alt.Scale(domain=[-0.085, 4.919], nice=False, zero=False)

major_x = "datum.value % 20 === 0"
major_y = "datum.value % 1 === 0"


def build_panel(p):
    rows = []
    for j, (lvl, piece) in enumerate(PANELS[p]):
        for (yy, xa, xb) in piece:
            rows.append({"y": yy, "x": xa, "x2": xb, "level": lvl,
                         "piece": f"{p}-{j}", "band": BANDS[lvl]})
    df = pd.DataFrame(rows)

    x_axis = dict(values=X_TICKS, grid=True, gridColor="#EBEBEB", gridWidth=1.1, domain=False,
                  labelExpr=f"{major_x} ? format(datum.value, 'd') : ''", labelFontSize=21,
                  labelColor="#4D4D4D", labelPadding=-2, tickSize=5, tickColor="#333333", tickWidth=1.1,
                  tickOpacity={"condition": {"test": major_x, "value": 1}, "value": 0},
                  labelFont=FONT)
    if p == 1:
        x_axis.update(title="Wind speed (km/h)", titleX=PW + GAP / 2, titleAlign="center",
                      titleFontSize=25.5, titleFontWeight="normal", titleColor="#000000",
                      titlePadding=10, titleFont=FONT)
    else:
        x_axis.update(title=None)

    if p == 0:
        y_axis = dict(values=Y_TICKS, grid=True, gridColor="#EBEBEB", gridWidth=1.1, domain=False,
                      labelExpr=f"{major_y} ? format(datum.value, 'd') : ''", labelFontSize=21,
                      labelColor="#4D4D4D", labelPadding=3, tickSize=5, tickColor="#333333", tickWidth=1.1,
                      tickOpacity={"condition": {"test": major_y, "value": 1}, "value": 0},
                      title="Significant height of total swell (m)", titleFontSize=25.5,
                      titleFontWeight="normal", titleColor="#000000", titlePadding=10,
                      labelFont=FONT, titleFont=FONT)
    else:
        y_axis = dict(values=Y_TICKS, grid=True, gridColor="#EBEBEB", gridWidth=1.1, domain=False,
                      labels=False, ticks=False, title=None)

    X = alt.X("x:Q", scale=x_scale, axis=alt.Axis(**x_axis))
    Y = alt.Y("y:Q", scale=y_scale, axis=alt.Axis(**y_axis))
    C = alt.Color("band:N", scale=color_scale,
                  legend=alt.Legend(title="Flaps/hour", orient="none", legendX=1102, legendY=138,
                                    symbolType="square", symbolSize=900, symbolStrokeWidth=0,
                                    symbolOpacity=1, labelFontSize=21.5, titleFontSize=25.5,
                                    titleFontWeight="normal", titleColor="#000000",
                                    labelColor="#000000", rowPadding=1.3, labelOffset=12,
                                    titlePadding=10, labelFont=FONT, titleFont=FONT))
    base = alt.Chart(df)
    layers = []
    for k in range(10):
        layers.append(
            base.transform_filter(alt.datum.level == k)
            .mark_area(orient="horizontal", stroke="white", strokeWidth=0.5, strokeOpacity=0.55, opacity=1)
            .encode(y=Y, x=X, x2="x2:Q", color=C, detail="piece:N")
        )

    # facet strips drawn above the panel
    sex_df = pd.DataFrame({"t": [SEXES[p]]})
    sex_box = alt.Chart(sex_df).mark_rect(fill="#D9D9D9", stroke="#333333", strokeWidth=1.1).encode(
        x=alt.value(0), x2=alt.value(PW), y=alt.value(-36.5), y2=alt.value(-0.5))
    sex_txt = alt.Chart(sex_df).mark_text(fontSize=22, color="#1A1A1A", font=FONT, baseline="middle").encode(
        x=alt.value(PW / 2), y=alt.value(-18), text="t:N")
    layers += [sex_box, sex_txt]
    if p in (0, 2):
        sp_df = pd.DataFrame({"t": [SPECIES[p // 2]]})
        sp_box = alt.Chart(sp_df).mark_rect(fill="#D9D9D9", stroke="#333333", strokeWidth=1.1).encode(
            x=alt.value(0), x2=alt.value(2 * PW + GAP), y=alt.value(-74.5), y2=alt.value(-38.5))
        sp_txt = alt.Chart(sp_df).mark_text(fontSize=22, color="#1A1A1A", font=FONT, baseline="middle").encode(
            x=alt.value(PW + GAP / 2), y=alt.value(-56), text="t:N")
        layers += [sp_box, sp_txt]
    if p == 0:
        bar_df = pd.DataFrame({"t": [""]})
        bar = alt.Chart(bar_df).mark_rect(fill="#F0C24E").encode(
            x=alt.value(-12.7), x2=alt.value(347.3), y=alt.value(-84), y2=alt.value(-81.5))
        layers.append(bar)

    return alt.layer(*layers).properties(width=PW, height=PH)


chart = alt.hconcat(*[build_panel(p) for p in range(4)], spacing=GAP, bounds="flush").properties(
    padding={"left": 7.2, "top": -0.5, "right": 5, "bottom": 2}
).configure(font=FONT).configure_view(stroke="#333333", strokeWidth=1.1)

chart.save("out.html", embed_options={"renderer": "svg", "actions": False})
